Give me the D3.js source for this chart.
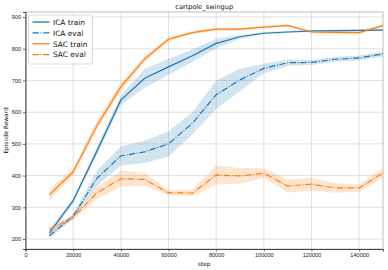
<!DOCTYPE html>
<html>
<head>
<meta charset="utf-8">
<script src="https://cdn.jsdelivr.net/npm/d3@7"></script>
<style>
  body { margin: 0; background: #fff; }
  svg { display: block; font-family: "DejaVu Sans", sans-serif; }
</style>
</head>
<body>
<svg id="chart" width="388" height="270"></svg>
<script>
// steps shared by every series
const steps = [10000, 20000, 30000, 40000, 50000, 60000, 70000, 80000, 90000, 100000, 110000, 120000, 130000, 140000, 150000];

// mean curves
const icaTrain = [219, 321, 478, 638, 707, 743, 778, 817, 838, 849, 853, 856, 857, 858, 859];
const icaEval  = [210, 272, 392, 462, 475, 500, 565, 655, 702, 738, 756, 757, 767, 771, 784];
const sacTrain = [339, 412, 558, 680, 768, 830, 851, 862, 862, 868, 874, 853, 852, 851, 873];
const sacEval  = [230, 268, 346, 390, 388, 346, 345, 402, 399, 408, 367, 373, 361, 361, 409];

// spread (half width of shaded band)
const icaTrainSd = [10, 8, 12, 15, 30, 25, 20, 15, 6, 4, 3, 3, 3, 3, 3];
const icaEvalSd  = [8, 8, 25, 30, 35, 40, 35, 45, 35, 15, 10, 8, 8, 8, 8];
const sacTrainSd = [18, 12, 15, 14, 10, 6, 5, 5, 4, 4, 4, 5, 5, 5, 5];
const sacEvalSd  = [8, 8, 20, 25, 20, 8, 10, 30, 25, 15, 20, 20, 15, 12, 15];

const xTicks = [0, 20000, 40000, 60000, 80000, 100000, 120000, 140000];
const yTicks = [200, 300, 400, 500, 600, 700, 800, 900];

const series = [
  { name: 'ICA train', mean: icaTrain, sd: icaTrainSd, color: '#1f77b4', dash: null },
  { name: 'ICA eval',  mean: icaEval,  sd: icaEvalSd,  color: '#1f77b4', dash: '6.4,1.6,1,1.6' },
  { name: 'SAC train', mean: sacTrain, sd: sacTrainSd, color: '#ff7f0e', dash: null },
  { name: 'SAC eval',  mean: sacEval,  sd: sacEvalSd,  color: '#ff7f0e', dash: '6.4,1.6,1,1.6' }
];

const svg = d3.select('#chart');
const margin = { left: 25.5, right: 5, top: 12, bottom: 21 };
const W = 388, H = 270;

const x = d3.scaleLinear().domain([0, 150000]).range([margin.left, W - margin.right]);
const y = d3.scaleLinear().domain([168.5, 916]).range([H - margin.bottom, margin.top]);

// grid
const grid = svg.append('g').attr('class', 'grid');
grid.selectAll('.gx').data(xTicks.slice(1)).join('line')
  .attr('x1', d => x(d)).attr('x2', d => x(d))
  .attr('y1', margin.top).attr('y2', H - margin.bottom)
  .attr('stroke', '#dcdcdc').attr('stroke-width', 0.9);
grid.selectAll('.gy').data(yTicks).join('line')
  .attr('x1', margin.left).attr('x2', W - margin.right)
  .attr('y1', d => y(d)).attr('y2', d => y(d))
  .attr('stroke', '#dcdcdc').attr('stroke-width', 0.9);

// bands
const area = s => d3.area()
  .x((d, i) => x(steps[i]))
  .y0((d, i) => y(s.mean[i] - s.sd[i]))
  .y1((d, i) => y(s.mean[i] + s.sd[i]));

series.forEach(s => {
  svg.append('path')
    .datum(s.mean)
    .attr('d', area(s))
    .attr('fill', s.color)
    .attr('fill-opacity', 0.2);
});

// lines
const line = d3.line().x((d, i) => x(steps[i])).y(d => y(d));
series.forEach(s => {
  svg.append('path')
    .datum(s.mean)
    .attr('d', line)
    .attr('fill', 'none')
    .attr('stroke', s.color)
    .attr('stroke-width', 1.2)
    .attr('stroke-dasharray', s.dash);
});

// spines
svg.append('rect')
  .attr('x', margin.left).attr('y', margin.top)
  .attr('width', W - margin.right - margin.left)
  .attr('height', H - margin.bottom - margin.top)
  .attr('fill', 'none').attr('stroke', '#b0b0b0').attr('stroke-width', 0.8);

// axes
const xAxis = svg.append('g')
  .attr('transform', `translate(0,${H - margin.bottom})`)
  .call(d3.axisBottom(x).tickValues(xTicks).tickSize(2.5).tickPadding(2).tickFormat(d3.format('d')));
const yAxis = svg.append('g')
  .attr('transform', `translate(${margin.left},0)`)
  .call(d3.axisLeft(y).tickValues(yTicks).tickSize(2.5).tickPadding(2).tickFormat(d3.format('d')));

[xAxis, yAxis].forEach(g => {
  g.select('.domain').attr('stroke', '#333').attr('stroke-width', 0.9);
  g.selectAll('.tick line').attr('stroke', '#333').attr('stroke-width', 0.7);
  g.selectAll('.tick text').attr('fill', '#222').style('font-size', '5.6px');
});

// titles
svg.append('text')
  .attr('x', (margin.left + W - margin.right) / 2).attr('y', 8.5)
  .attr('text-anchor', 'middle')
  .style('font-size', '6.6px').attr('fill', '#111')
  .text('cartpole_swingup');

svg.append('text')
  .attr('x', (margin.left + W - margin.right) / 2).attr('y', 265.5)
  .attr('text-anchor', 'middle')
  .style('font-size', '5.8px').attr('fill', '#111')
  .text('step');

svg.append('text')
  .attr('transform', `translate(8,${(margin.top + H - margin.bottom) / 2}) rotate(-90)`)
  .attr('text-anchor', 'middle')
  .style('font-size', '5.8px').attr('fill', '#111')
  .text('Episode Reward');

// legend
const legend = svg.append('g').attr('transform', 'translate(28.5,15)');
legend.append('rect')
  .attr('width', 64).attr('height', 49).attr('rx', 2)
  .attr('fill', '#fff').attr('fill-opacity', 0.85)
  .attr('stroke', '#d0d0d0').attr('stroke-width', 0.8);

series.forEach((s, i) => {
  const ly = 7 + i * 10.9;
  legend.append('line')
    .attr('x1', 4).attr('x2', 21)
    .attr('y1', ly).attr('y2', ly)
    .attr('stroke', s.color).attr('stroke-width', 1.3)
    .attr('stroke-dasharray', s.dash);
  legend.append('text')
    .attr('x', 24.5).attr('y', ly + 2.7)
    .style('font-size', '7.4px').attr('fill', '#111')
    .text(s.name);
});
</script>
</body>
</html>
